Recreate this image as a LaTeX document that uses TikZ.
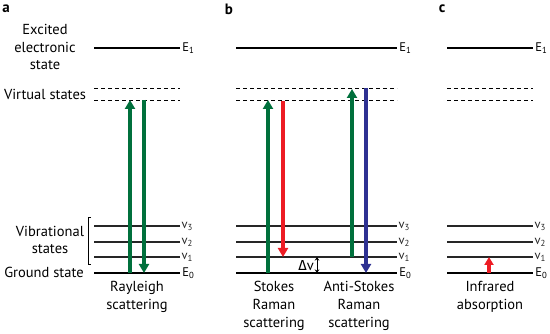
\documentclass[tikz,border=0pt]{standalone}
\usepackage{fontspec}
\setmainfont{PT Sans}
\newfontfamily\grkfont{Fira Sans}
\usetikzlibrary{arrows.meta,positioning,calc}
\definecolor{ramgreen}{RGB}{0,112,60}
\definecolor{ramred}{RGB}{237,28,36}
\definecolor{ramblue}{RGB}{46,49,146}

\begin{document}
\begin{tikzpicture}[x=1pt,y=-1pt,font=\fontsize{14.5}{17.7}\selectfont,
  elec/.style={line width=2.8pt},
  vibr/.style={line width=1.4pt,black!85},
  virt/.style={line width=0.9pt,dash pattern=on 4pt off 3pt},
  tr/.style={line width=4pt,-{Triangle[width=10pt,length=9pt]}},
  lvl/.style={anchor=west,inner sep=1pt,font=\fontsize{12.5}{14}\selectfont},
  txt/.style={align=center,inner sep=0pt},
  pan/.style={font=\fontsize{15}{17}\selectfont\bfseries,inner sep=0pt}]
\useasboundingbox (0,0) rectangle (550,334);
% energy levels, one set per panel
\foreach \p/\l/\r in {a/94/180,b/236/397,c/447/533}{
  \draw[elec] (\l,48) -- (\r,48) node[lvl] (\p E1) {E\textsubscript{1}};
  \draw[virt] (\l,88) -- (\r,88);
  \draw[virt] (\l,100) -- (\r,100);
  \draw[vibr] (\l,226) -- (\r,226) node[lvl] (\p v3) {v\textsubscript{3}};
  \draw[vibr] (\l,242) -- (\r,242) node[lvl] (\p v2) {v\textsubscript{2}};
  \draw[vibr] (\l,257) -- (\r,257) node[lvl] (\p v1) {v\textsubscript{1}};
  \draw[elec] (\l,273) -- (\r,273) node[lvl] (\p E0) {E\textsubscript{0}};
}
% panel letters
\node[pan] (pa) at (6,9) {a};
\node[pan] (pb) at (229,9) {b};
\node[pan] (pc) at (442,9) {c};
% state names
\node[txt] (exc) at (45,47) {Excited\\electronic\\state};
\node[txt] (virtn) at (45,94) {Virtual states};
\node[txt] (vibn) at (50,240) {Vibrational\\states};
\node[txt] (gnd) at (44,272) {Ground state};
\draw[line width=0.9pt] (91,217) -- (88,217) -- (88,264) -- (91,264);
% panel a: Rayleigh
\coordinate (a-up0) at (130,273);
\coordinate (a-up1) at (130,100);
\coordinate (a-dn0) at (144,100);
\coordinate (a-dn1) at (144,273);
\draw[tr,ramgreen] (a-up0) -- (a-up1);
\draw[tr,ramgreen] (a-dn0) -- (a-dn1);
\node[txt] (ray) at (137,297) {Rayleigh\\scattering};
% panel b: Stokes and anti-Stokes
\coordinate (b-up0) at (268,273);
\coordinate (b-up1) at (268,100);
\coordinate (b-dn0) at (283,101);
\coordinate (b-dn1) at (283,257);
\coordinate (b-au0) at (352,257);
\coordinate (b-au1) at (352,89);
\coordinate (b-ad0) at (366,88);
\coordinate (b-ad1) at (366,273);
\draw[tr,ramgreen] (b-up0) -- (b-up1);
\draw[tr,ramred] (b-dn0) -- (b-dn1);
\draw[tr,ramgreen] (b-au0) -- (b-au1);
\draw[tr,ramblue] (b-ad0) -- (b-ad1);
\coordinate (dv0) at (317,257);
\coordinate (dv1) at (317,273);
\draw[line width=0.8pt,{Stealth[length=3.5pt,width=4.5pt]}-{Stealth[length=3.5pt,width=4.5pt]}] (dv0) -- (dv1);
\node[txt,anchor=east] (dv) at (314,266) {{\grkfont Δ}v};
\node[txt] (sto) at (274,306) {Stokes\\Raman\\scattering};
\node[txt] (asto) at (359,306) {Anti-Stokes\\Raman\\scattering};
% panel c: infrared
\coordinate (c-up0) at (489,273);
\coordinate (c-up1) at (489,257);
\draw[line width=4pt,ramred,-{Triangle[width=9pt,length=8pt]}] (c-up0) -- (c-up1);
\node[txt] (ir) at (490,297) {Infrared\\absorption};
\end{tikzpicture}
\end{document}
